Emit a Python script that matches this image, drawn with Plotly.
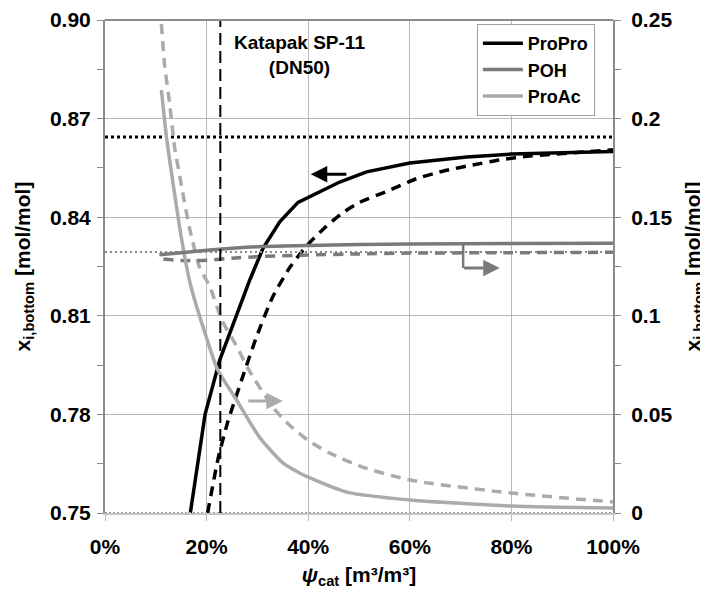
import plotly.graph_objects as go

# ---------------- data ----------------
# ProPro (left axis, mol/mol)
psi_propro_solid = [0.168, 0.197, 0.226, 0.255, 0.285, 0.311, 0.344, 0.380, 0.462, 0.515, 0.600, 0.712, 0.800, 1.000]
propro_solid = [0.750, 0.780, 0.7966, 0.8087, 0.8209, 0.8305, 0.8386, 0.8445, 0.8507, 0.8538, 0.8565, 0.8583, 0.8592, 0.8600]
psi_propro_dash = [0.202, 0.222, 0.241, 0.269, 0.298, 0.330, 0.365, 0.400, 0.432, 0.465, 0.501, 0.554, 0.613, 0.665, 0.724, 0.777, 0.836, 0.941, 1.000]
propro_dash = [0.750, 0.7661, 0.7774, 0.7905, 0.8035, 0.8157, 0.8250, 0.8318, 0.8367, 0.8410, 0.8445, 0.8478, 0.8517, 0.8540, 0.8559, 0.8574, 0.8586, 0.8598, 0.8605]

# POH (right axis)
psi_poh_solid = [0.107, 0.150, 0.200, 0.250, 0.300, 0.400, 0.500, 0.600, 0.800, 1.000]
poh_solid = [0.1310, 0.1320, 0.1332, 0.1342, 0.1350, 0.1357, 0.1361, 0.1364, 0.1367, 0.1368]
psi_poh_dash = [0.115, 0.150, 0.200, 0.250, 0.300, 0.400, 0.500, 0.600, 0.800, 1.000]
poh_dash = [0.1288, 0.1280, 0.1282, 0.1292, 0.1300, 0.1308, 0.1314, 0.1318, 0.1320, 0.1322]

# ProAc (right axis)
psi_proac_solid = [0.111, 0.121, 0.133, 0.150, 0.168, 0.200, 0.222, 0.259, 0.304, 0.350, 0.383, 0.399, 0.476, 0.600, 0.800, 1.000]
proac_solid = [0.2145, 0.1907, 0.1689, 0.1400, 0.1160, 0.0887, 0.0725, 0.0573, 0.0385, 0.0254, 0.0203, 0.0183, 0.0106, 0.0066, 0.0035, 0.0025]
psi_proac_dash = [0.111, 0.117, 0.127, 0.137, 0.151, 0.166, 0.186, 0.206, 0.230, 0.261, 0.281, 0.330, 0.363, 0.399, 0.442, 0.507, 0.600, 0.800, 1.000]
proac_dash = [0.248, 0.228, 0.208, 0.1856, 0.1653, 0.1450, 0.1247, 0.1150, 0.0979, 0.0837, 0.0735, 0.0538, 0.0446, 0.0370, 0.0304, 0.0233, 0.0167, 0.0101, 0.0056]

# reference lines
propro_ref = 0.8644      # left axis
poh_ref = 0.1324         # right axis
proac_ref = 0.0          # right axis
psi_packing = 0.227      # Katapak SP-11 (DN50)

# axis ticks
x_ticks = [0, 0.2, 0.4, 0.6, 0.8, 1.0]
left_ticks = [0.75, 0.78, 0.81, 0.84, 0.87, 0.90]
right_ticks = [0, 0.05, 0.1, 0.15, 0.2, 0.25]
right_ticktext = ["0", "0.05", "0.1", "0.15", "0.2", "0.25"]

# ---------------- styling ----------------
FONT = "Liberation Sans, Arial, sans-serif"
BLACK = "#000000"
DARK = "#7a7a7a"
LIGHT = "#ababab"
LW = 3.5
DASH = "10px,7px"

fig = go.Figure()

def add(x, y, color, dash, name, axis, shape="linear"):
    fig.add_trace(go.Scatter(
        x=x, y=y, mode="lines", name=name, yaxis=axis,
        line=dict(color=color, width=LW, dash=dash, shape=shape, smoothing=0.6),
        showlegend=False, hoverinfo="skip"))

# reference dotted lines (as traces spanning the axis)
fig.add_trace(go.Scatter(x=[0, 1], y=[proac_ref, proac_ref], yaxis="y2", mode="lines",
                         line=dict(color="#9a9a9a", width=2, dash="2px,2px"), showlegend=False, hoverinfo="skip"))
fig.add_trace(go.Scatter(x=[0, 1], y=[poh_ref, poh_ref], yaxis="y2", mode="lines",
                         line=dict(color="#8a8a8a", width=2, dash="2px,3px"), showlegend=False, hoverinfo="skip"))
fig.add_trace(go.Scatter(x=[0, 1], y=[propro_ref, propro_ref], yaxis="y", mode="lines",
                         line=dict(color=BLACK, width=3, dash="3px,3px"), showlegend=False, hoverinfo="skip"))

add(psi_proac_dash, proac_dash, LIGHT, DASH, "ProAc", "y2", "spline")
add(psi_poh_dash, poh_dash, DARK, DASH, "POH", "y2", "spline")
add(psi_propro_dash, propro_dash, BLACK, DASH, "ProPro", "y", "spline")
add(psi_proac_solid, proac_solid, LIGHT, "solid", "ProAc", "y2", "spline")
add(psi_poh_solid, poh_solid, DARK, "solid", "POH", "y2", "spline")
add(psi_propro_solid, propro_solid, BLACK, "solid", "ProPro", "y", "linear")

# legend entries in order
for nm, col in [("ProPro", BLACK), ("POH", DARK), ("ProAc", LIGHT)]:
    fig.add_trace(go.Scatter(x=[None], y=[None], mode="lines", name=nm,
                             line=dict(color=col, width=LW), showlegend=True))

# vertical dashed line (packing)
fig.add_shape(type="line", xref="x", yref="paper", x0=psi_packing, x1=psi_packing, y0=0, y1=1,
              line=dict(color=BLACK, width=2, dash="12px,6px"))

# POH bracket
fig.add_shape(type="line", xref="x", yref="y2", x0=0.705, x1=0.705, y0=0.1362, y1=0.1242,
              line=dict(color=DARK, width=2.5))

fig.add_annotation(x=0.405, y=0.8531, ax=0.478, ay=0.8531, xref="x", yref="y", axref="x", ayref="y",
                   text="", showarrow=True, arrowhead=2, arrowsize=1.1, arrowwidth=3, arrowcolor=BLACK)
fig.add_annotation(x=0.777, y=0.1242, ax=0.704, ay=0.1242, xref="x", yref="y2", axref="x", ayref="y2",
                   text="", showarrow=True, arrowhead=2, arrowsize=1.1, arrowwidth=3, arrowcolor=DARK)
fig.add_annotation(x=0.350, y=0.0568, ax=0.279, ay=0.0568, xref="x", yref="y2", axref="x", ayref="y2",
                   text="", showarrow=True, arrowhead=2, arrowsize=1.1, arrowwidth=3, arrowcolor=LIGHT)

fig.add_annotation(x=0.383, y=0.98, xref="x", yref="paper", yanchor="top", showarrow=False,
                   text="Katapak SP-11<br>(DN50)", align="center",
                   font=dict(family=FONT, size=19, color=BLACK, weight="bold"))

tickfont = dict(family=FONT, size=21, color=BLACK, weight="bold")
titlefont = dict(family=FONT, size=21, color=BLACK, weight="bold")
ytitle = "x<sub>i,bottom</sub> [mol/mol]"

# the page body adds an 8px offset; margins compensate so the plot sits at x 105..613, y 20..513
fig.update_layout(
    width=708, height=596,
    margin=dict(l=97, r=103, t=12, b=91, autoexpand=False),
    paper_bgcolor="white", plot_bgcolor="white",
    font=dict(family=FONT, color=BLACK),
    legend=dict(x=0.732, y=0.992, xanchor="left", yanchor="top",
                bgcolor="white", bordercolor="#a0a0a0", borderwidth=1,
                font=dict(family=FONT, size=18, color=BLACK, weight="bold"),
                tracegroupgap=0, itemwidth=40),
    xaxis=dict(range=[0, 1], tickvals=x_ticks, tickformat=".0%", automargin=False,
               showgrid=True, gridcolor="#b8b8b8", gridwidth=1,
               showline=True, linecolor="#c4c4c4", linewidth=2, mirror=False,
               ticks="outside", ticklen=6, tickcolor="#b8b8b8", ticklabelstandoff=8,
               tickfont=tickfont, zeroline=False,
               title=dict(text="<i>ψ</i><sub>cat</sub> [m³/m³]", font=titlefont, standoff=10)),
    yaxis=dict(range=[0.75, 0.90], tickvals=left_ticks, tickformat=".2f", automargin=False,
               showgrid=True, gridcolor="#b8b8b8", gridwidth=1,
               showline=True, linecolor="#8c8c8c", linewidth=2,
               ticks="outside", ticklen=6, tickcolor="#8c8c8c", ticklabelstandoff=2,
               minor=dict(dtick=0.015, ticks="outside", ticklen=6, tickcolor="#8c8c8c", showgrid=False),
               tickfont=tickfont, zeroline=False,
               title=dict(text=ytitle, font=titlefont, standoff=14)),
    yaxis2=dict(range=[0, 0.25], tickvals=right_ticks, ticktext=right_ticktext, automargin=False,
                overlaying="y", side="right", showgrid=False,
                showline=True, linecolor="#8c8c8c", linewidth=2,
                ticks="outside", ticklen=6, tickcolor="#8c8c8c", ticklabelstandoff=6,
                minor=dict(dtick=0.025, ticks="outside", ticklen=6, tickcolor="#8c8c8c", showgrid=False),
                tickfont=tickfont, zeroline=False,
                title=dict(text=ytitle, font=titlefont, standoff=14)),
)

# top frame line
fig.add_shape(type="line", xref="paper", yref="paper", x0=0, x1=1, y0=1, y1=1,
              line=dict(color="#8c8c8c", width=2))

fig.write_html("out.html")
